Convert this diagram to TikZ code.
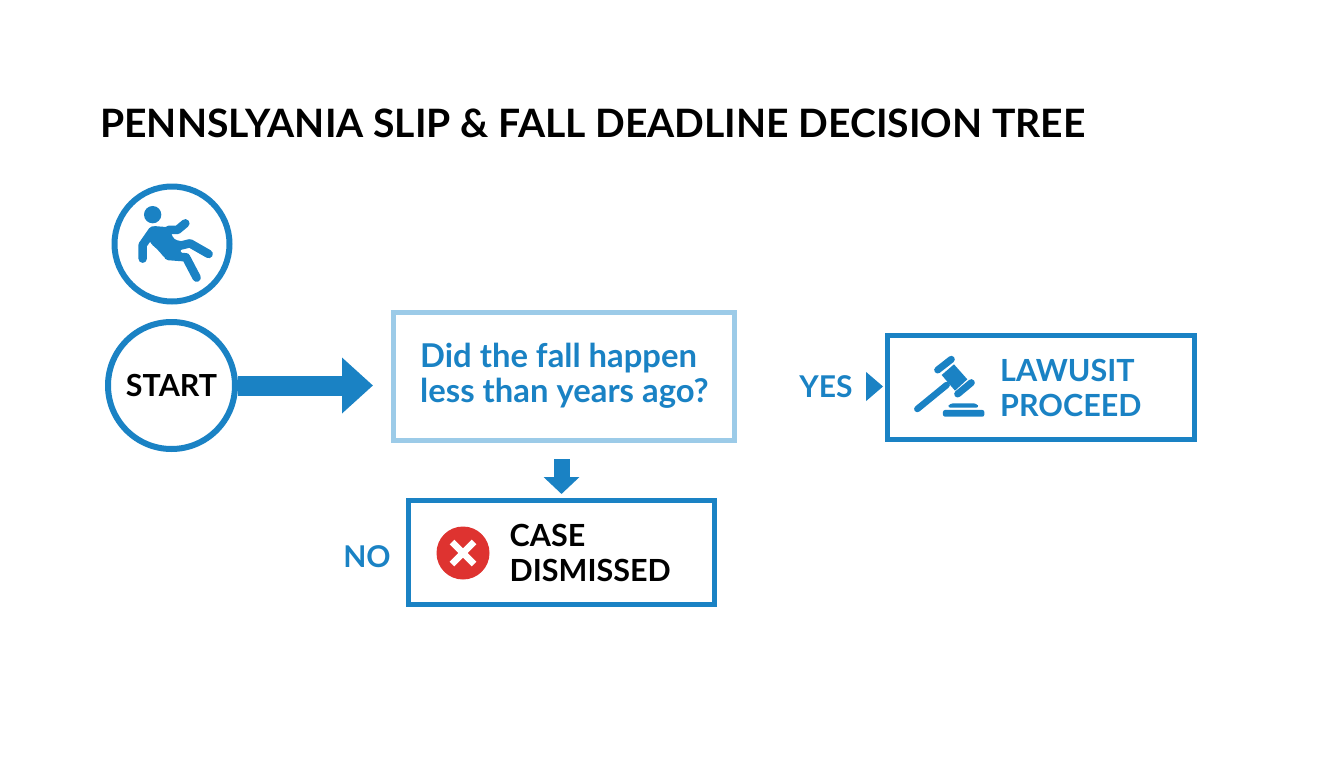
\documentclass[tikz,border=0pt]{standalone}
\usepackage{fontspec}
\setmainfont{Lato}
\usetikzlibrary{arrows.meta}
\usetikzlibrary{positioning}
\definecolor{fallblue}{HTML}{1A82C4}
\definecolor{palebox}{HTML}{9CCBE8}
\definecolor{stopred}{HTML}{DE3330}
\tikzset{
  ring/.style={circle,draw=fallblue,line width=6pt,inner sep=0pt},
  resultbox/.style={draw=fallblue,line width=5pt,minimum width=306pt,minimum height=104pt},
  bluetext/.style={text=fallblue,font=\fontsize{30.5}{35}\selectfont\bfseries,align=left,inner sep=0pt},
  blacktext/.style={text=black,font=\fontsize{30.5}{35}\selectfont\bfseries,align=left,inner sep=0pt},
  limb/.style={fallblue,line width=8.5pt,line cap=round,line join=round},
}
\begin{document}
\begin{tikzpicture}[x=1pt,y=-1pt]
\useasboundingbox (0,0) rectangle (1344,768);
\node[text=black,font=\fontsize{39.1}{44}\selectfont\bfseries,anchor=west,inner sep=0pt] (title) at (100,123) {PENNSLYANIA SLIP \& FALL DEADLINE DECISION TREE};

\node[ring,minimum size=115pt] (icon) at (172,244) {};
\node[ring,minimum size=127pt,text=black,font=\fontsize{30.4}{34}\selectfont\bfseries] (start) at (171.5,385.5) {START};
\node[draw=palebox,line width=5pt,minimum width=341pt,minimum height=128pt] (question) at (564,376.5) {};
\node[resultbox,minimum width=307pt] (lawsuit) at (1041,387.5) {};
\node[resultbox] (dismissed) at (561.5,552.5) {};

\node[bluetext,font=\fontsize{32.8}{35}\selectfont\bfseries,anchor=west] (questiontext) at (420,375.5) {Did the fall happen\\less than years ago?};
\node[bluetext,anchor=west] (lawsuittext) at (1000,387.5) {LAWUSIT\\PROCEED};
\node[blacktext,anchor=west] (dismissedtext) at (509.5,552.5) {CASE\\DISMISSED};
\node[bluetext,font=\fontsize{30}{34}\selectfont\bfseries] (yes) at (826,386.5) {YES};
\node[bluetext,font=\fontsize{30}{34}\selectfont\bfseries] (no) at (367,556.5) {NO};

\draw[fallblue,line width=20pt,-{Triangle[length=31pt,width=54pt]},shorten >=18pt] (start.east) -- (start.east -| question.west);
\draw[fallblue,line width=16pt,-{Triangle[length=17pt,width=35pt]},shorten <=16pt,shorten >=4pt] (dismissed.north |- question.south) -- (dismissed.north);
\draw[fallblue,line width=1pt,-{Triangle[length=17pt,width=29pt]},shorten <=14.5pt,shorten >=2pt] (yes.east) -- (yes.east -| lawsuit.west);

% falling man
\begin{scope}[shift={(90,170)},x=0.3333pt,y=-0.3333pt]
\fill[fallblue] (188,134) circle (26);
\fill[fallblue,rounded corners=6pt] (178,167) -- (240,172) -- (250,212) -- (285,212) -- (285,232) -- (262,244) -- (285,252) -- (290,270) -- (228,270) -- (205,240) -- (175,215) -- cycle;
\draw[limb] (158,266) -- (158,225) -- (188,182);
\draw[limb] (235,180) -- (262,180) -- (286,160);
\draw[limb] (250,232) -- (300,220) -- (356,252);
\draw[limb] (235,258) -- (288,262) -- (320,323);
\end{scope}

% gavel
\begin{scope}[shift={(790,320)},x=0.3333pt,y=-0.3333pt]
\fill[fallblue] (455,165) -- (492,133) -- (532,178) -- (495,212) -- cycle;
\draw[limb,line width=7pt] (443,150) -- (484,118);
\draw[limb,line width=7pt] (503,222) -- (544,188);
\draw[limb,line width=6.5pt] (382,267) -- (470,195);
\fill[fallblue,rounded corners=3pt] (472,263) -- (480,250) -- (560,250) -- (568,263) -- cycle;
\fill[fallblue,rounded corners=2pt] (459,290) -- (459,270) -- (583,270) -- (583,290) -- cycle;
\end{scope}

% red cross
\fill[stopred] (463,553) circle (26.5);
\draw[white,line width=6.5pt] (452,542) -- (474,564);
\draw[white,line width=6.5pt] (452,564) -- (474,542);
\end{tikzpicture}
\end{document}
